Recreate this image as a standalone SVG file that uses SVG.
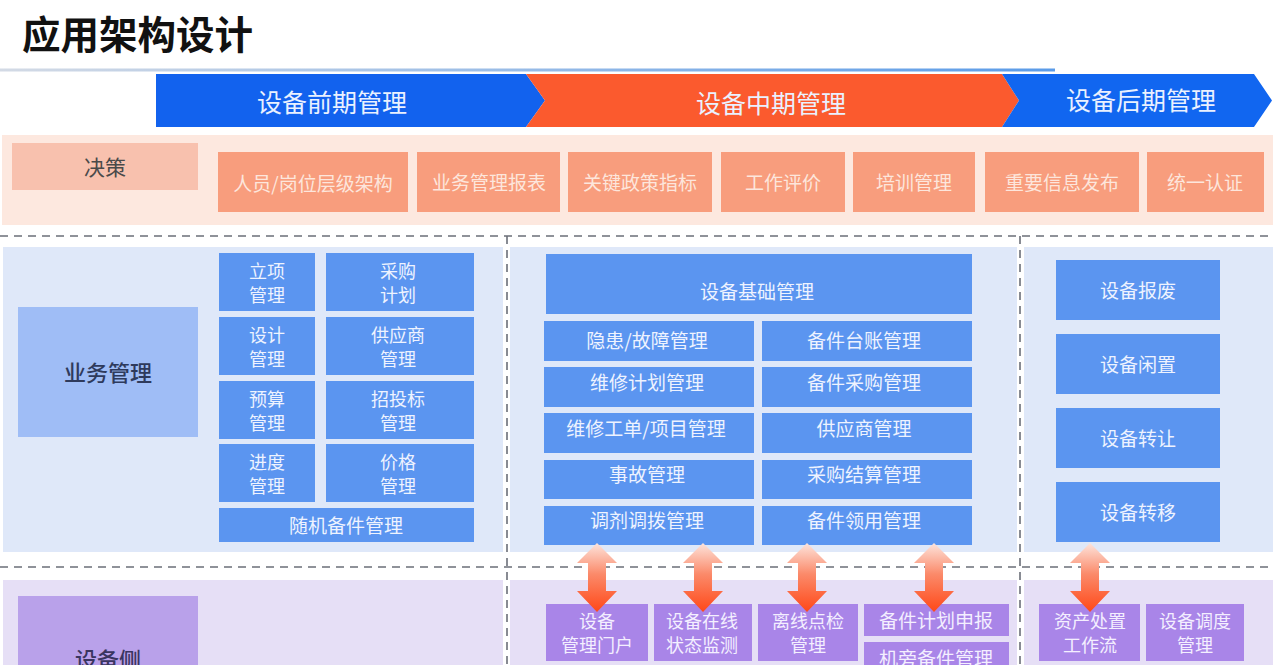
<svg xmlns="http://www.w3.org/2000/svg" width="1273" height="665" viewBox="0 0 1273 665">
<defs>
<linearGradient id="lineGrad" x1="0" y1="0" x2="1" y2="0">
<stop offset="0" stop-color="#d3dae5"/>
<stop offset="1" stop-color="#5a9be8"/>
</linearGradient>
<linearGradient id="arrGrad" x1="0" y1="0" x2="0" y2="1">
<stop offset="0" stop-color="#fde4dc"/>
<stop offset="0.45" stop-color="#fb8a6a"/>
<stop offset="1" stop-color="#ff4818"/>
</linearGradient>
<path id="dblArrow" d="M0,0 L20,20 L9,20 L9,48 L20,48 L0,69 L-20,48 L-9,48 L-9,20 L-20,20 Z"/>
</defs>
<style>
text{font-family:"Noto Sans CJK SC","Noto Sans",sans-serif;text-anchor:middle;dominant-baseline:central}
.title{font-size:38.5px;font-weight:700;fill:#111;text-anchor:start;dominant-baseline:alphabetic}
.phase{font-size:25px;fill:#eaf1ff}
.dec{fill:#f89d7d}
.dect{font-size:19px;fill:#fde6dc}
.blue{fill:#5b95f0}
.bt{font-size:19px;fill:#eef3ff}
.bt2{font-size:18px;fill:#eef3ff}
.purple{fill:#a985e8}
.pt{font-size:19px;fill:#f4efff}
.pt2{font-size:18px;fill:#f4efff}
.lab{font-size:21px;fill:#3a3f55}
.dash{stroke:#6b6f78;stroke-width:1.6;stroke-dasharray:8 6;fill:none}
</style>
<rect x="0" y="0" width="1273" height="665" fill="#ffffff"/>
<text class="title" x="22" y="49">应用架构设计</text>
<rect x="0" y="68.5" width="1055" height="3" fill="url(#lineGrad)"/>

<g id="phase-early">
<polygon points="156,74 526,74 545,100.5 526,127 156,127" fill="#1262ee"/>
<text class="phase" x="332" y="101">设备前期管理</text>
</g>
<g id="phase-mid">
<polygon points="526,74 1002,74 1019,100.5 1002,127 526,127 545,100.5" fill="#fb5a2e"/>
<text class="phase" x="771" y="102">设备中期管理</text>
</g>
<g id="phase-late">
<polygon points="1002,74 1254,74 1272,100.5 1254,127 1002,127 1019,100.5" fill="#1166f0"/>
<text class="phase" x="1141" y="99">设备后期管理</text>
</g>

<rect x="2" y="135" width="1271" height="90" fill="#fde8df"/>
<rect x="3" y="247" width="500" height="305" fill="#dfe8f9"/>
<rect x="510" y="247" width="507" height="305" fill="#dfe8f9"/>
<rect x="1024" y="247" width="249" height="305" fill="#dfe8f9"/>
<rect x="3" y="580" width="500" height="85" fill="#e6dff6"/>
<rect x="510" y="580" width="507" height="85" fill="#e6dff6"/>
<rect x="1024" y="580" width="249" height="85" fill="#e6dff6"/>

<g id="decision">
<rect x="12" y="143" width="186" height="47" fill="#f8c1ae"/>
<text class="lab" x="105" y="166" style="fill:#4a4a4a">决策</text>
</g>
<g id="d1"><rect class="dec" x="218" y="152" width="190" height="60"/><text class="dect" x="313" y="182">人员/岗位层级架构</text></g>
<g id="d2"><rect class="dec" x="417" y="152" width="143" height="60"/><text class="dect" x="489" y="181">业务管理报表</text></g>
<g id="d3"><rect class="dec" x="568" y="152" width="144" height="60"/><text class="dect" x="640" y="181">关键政策指标</text></g>
<g id="d4"><rect class="dec" x="721" y="152" width="124" height="60"/><text class="dect" x="783" y="181">工作评价</text></g>
<g id="d5"><rect class="dec" x="853" y="152" width="122" height="60"/><text class="dect" x="914" y="181">培训管理</text></g>
<g id="d6"><rect class="dec" x="985" y="152" width="154" height="60"/><text class="dect" x="1062" y="181">重要信息发布</text></g>
<g id="d7"><rect class="dec" x="1147" y="152" width="117" height="60"/><text class="dect" x="1205" y="181">统一认证</text></g>

<g id="biz">
<rect x="18" y="307" width="180" height="130" fill="#9fbdf6"/>
<text class="lab" x="108" y="371" style="font-size:22px;font-weight:500;fill:#2e3a5c">业务管理</text>
</g>
<g id="b1"><rect class="blue" x="219" y="253" width="96" height="58"/><text class="bt2" x="267" y="270">立项</text><text class="bt2" x="267" y="294">管理</text></g>
<g id="b2"><rect class="blue" x="326" y="253" width="148" height="58"/><text class="bt2" x="398" y="270">采购</text><text class="bt2" x="398" y="294">计划</text></g>
<g id="b3"><rect class="blue" x="219" y="317" width="96" height="58"/><text class="bt2" x="267" y="334">设计</text><text class="bt2" x="267" y="358">管理</text></g>
<g id="b4"><rect class="blue" x="326" y="317" width="148" height="58"/><text class="bt2" x="398" y="334">供应商</text><text class="bt2" x="398" y="358">管理</text></g>
<g id="b5"><rect class="blue" x="219" y="381" width="96" height="58"/><text class="bt2" x="267" y="398">预算</text><text class="bt2" x="267" y="422">管理</text></g>
<g id="b6"><rect class="blue" x="326" y="381" width="148" height="58"/><text class="bt2" x="398" y="398">招投标</text><text class="bt2" x="398" y="422">管理</text></g>
<g id="b7"><rect class="blue" x="219" y="444" width="96" height="58"/><text class="bt2" x="267" y="461">进度</text><text class="bt2" x="267" y="485">管理</text></g>
<g id="b8"><rect class="blue" x="326" y="444" width="148" height="58"/><text class="bt2" x="398" y="461">价格</text><text class="bt2" x="398" y="485">管理</text></g>
<g id="b9"><rect class="blue" x="219" y="508" width="255" height="34"/><text class="bt" x="346" y="524">随机备件管理</text></g>

<g id="m0"><rect class="blue" x="546" y="254" width="426" height="60"/><text class="bt" x="757" y="290">设备基础管理</text></g>
<g id="m1"><rect class="blue" x="544" y="321" width="210" height="40"/><text class="bt" x="647" y="339">隐患/故障管理</text></g>
<g id="m2"><rect class="blue" x="762" y="321" width="210" height="40"/><text class="bt" x="864" y="339">备件台账管理</text></g>
<g id="m3"><rect class="blue" x="544" y="367" width="210" height="40"/><text class="bt" x="647" y="381">维修计划管理</text></g>
<g id="m4"><rect class="blue" x="762" y="367" width="210" height="40"/><text class="bt" x="864" y="381">备件采购管理</text></g>
<g id="m5"><rect class="blue" x="544" y="413" width="210" height="40"/><text class="bt" x="646" y="427">维修工单/项目管理</text></g>
<g id="m6"><rect class="blue" x="762" y="413" width="210" height="40"/><text class="bt" x="864" y="427">供应商管理</text></g>
<g id="m7"><rect class="blue" x="544" y="460" width="210" height="39"/><text class="bt" x="647" y="473">事故管理</text></g>
<g id="m8"><rect class="blue" x="762" y="460" width="210" height="39"/><text class="bt" x="864" y="473">采购结算管理</text></g>
<g id="m9"><rect class="blue" x="544" y="506" width="210" height="39"/><text class="bt" x="647" y="519">调剂调拨管理</text></g>
<g id="m10"><rect class="blue" x="762" y="506" width="210" height="39"/><text class="bt" x="864" y="519">备件领用管理</text></g>

<g id="r1"><rect class="blue" x="1056" y="260" width="164" height="60"/><text class="bt" x="1138" y="289">设备报废</text></g>
<g id="r2"><rect class="blue" x="1056" y="334" width="164" height="60"/><text class="bt" x="1138" y="363">设备闲置</text></g>
<g id="r3"><rect class="blue" x="1056" y="408" width="164" height="60"/><text class="bt" x="1138" y="437">设备转让</text></g>
<g id="r4"><rect class="blue" x="1056" y="482" width="164" height="60"/><text class="bt" x="1138" y="511">设备转移</text></g>

<g id="dev">
<rect x="18" y="596" width="180" height="80" fill="#b9a1ea"/>
<text class="lab" x="108" y="658" style="font-size:22px;font-weight:500;fill:#3a3560">设备侧</text>
</g>
<g id="p1"><rect class="purple" x="546" y="604" width="102" height="57"/><text class="pt2" x="597" y="620">设备</text><text class="pt2" x="597" y="644">管理门户</text></g>
<g id="p2"><rect class="purple" x="654" y="604" width="98" height="57"/><text class="pt2" x="702" y="620">设备在线</text><text class="pt2" x="702" y="644">状态监测</text></g>
<g id="p3"><rect class="purple" x="758" y="604" width="100" height="57"/><text class="pt2" x="808" y="620">离线点检</text><text class="pt2" x="808" y="644">管理</text></g>
<g id="p4"><rect class="purple" x="864" y="604" width="145" height="32"/><text class="pt" x="936" y="619">备件计划申报</text></g>
<g id="p5"><rect class="purple" x="864" y="642" width="145" height="30"/><text class="pt" x="936" y="657">机旁备件管理</text></g>
<g id="p6"><rect class="purple" x="1039" y="604" width="101" height="57"/><text class="pt2" x="1090" y="620">资产处置</text><text class="pt2" x="1090" y="644">工作流</text></g>
<g id="p7"><rect class="purple" x="1146" y="604" width="98" height="57"/><text class="pt2" x="1195" y="620">设备调度</text><text class="pt2" x="1195" y="644">管理</text></g>

<g id="dividers">
<line class="dash" x1="0" y1="236" x2="1273" y2="236"/>
<line class="dash" x1="0" y1="567" x2="1273" y2="567"/>
<line class="dash" x1="507" y1="236" x2="507" y2="665"/>
<line class="dash" x1="1020" y1="236" x2="1020" y2="665"/>
</g>

<g id="connectors" fill="url(#arrGrad)">
<use href="#dblArrow" x="597" y="543"/>
<use href="#dblArrow" x="703" y="543"/>
<use href="#dblArrow" x="807" y="543"/>
<use href="#dblArrow" x="934" y="543"/>
<use href="#dblArrow" x="1090" y="543"/>
</g>
</svg>
